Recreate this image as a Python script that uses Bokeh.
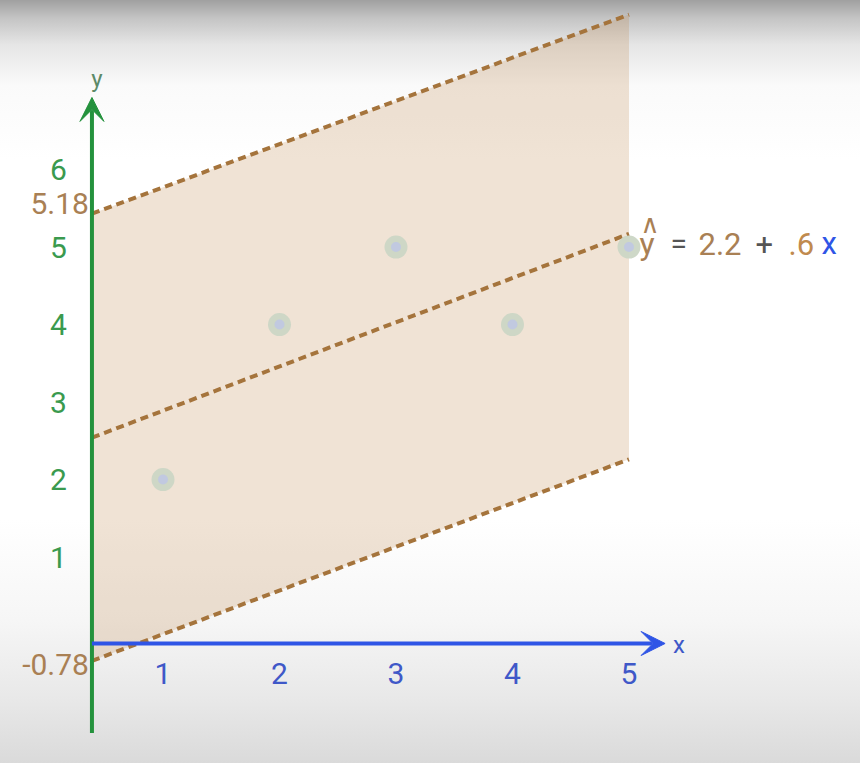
from bokeh.plotting import figure
from bokeh.models import (Range1d, LinearAxis, FixedTicker, Arrow, VeeHead, Label,
                          GlobalInlineStyleSheet)
from bokeh.embed import file_html
from bokeh.resources import INLINE

# ---------------- data ----------------
x_obs = [1, 2, 3, 4, 5]
y_obs = [2, 4, 5, 4, 5]
x_ticks = [1, 2, 3, 4, 5]
y_ticks = [1, 2, 3, 4, 5, 6]
band_x = [0.39, 5.0]          # where the drawn lines start / end
fit_y = [2.54, 5.17]          # regression line as drawn
upper_y = [5.43, 8.0]         # upper dashed bound as drawn
lower_y = [-0.34, 2.26]       # lower dashed bound as drawn
upper_label = "5.18"
lower_label = "-0.78"
eq_parts = ["y", "=", "2.2", "+", ".6", "x"]

# ---------------- layout / style ----------------
FONT = "Roboto"
GREEN = "#24923d"
GREEN_TXT = "#3a9a4e"
BLUE = "#2f55e6"
BLUE_TXT = "#3f58c8"
BROWN = "#a5743c"
BROWN_TXT = "#a98054"
GRAY_TXT = "#555555"

y_axis_x = 0.39
x_axis_y = -0.116

p = figure(width=844, height=747,
           x_range=Range1d(-0.395, 6.85), y_range=Range1d(-1.458, 8.181),
           x_axis_type=None, y_axis_type=None,
           output_backend="svg", toolbar_location=None, min_border=0,
           outline_line_color=None, background_fill_alpha=0, border_fill_alpha=0)

p.stylesheets = [GlobalInlineStyleSheet(css=(
    "html{height:100%;background:linear-gradient(to bottom,#a0a0a0 0px,#c4c4c4 18px,"
    "#e6e6e6 45px,#fafafa 85px,#ffffff 160px,#ffffff 520px,#f6f6f6 620px,#e8e8e8 700px,#dadada 763px) no-repeat;}"
    "body{background:transparent;}"))]

# band between bounds
p.varea(x=band_x, y1=lower_y, y2=upper_y, fill_color="#c08a4e", fill_alpha=0.24)

# dashed lines
for ys in (upper_y, fit_y, lower_y):
    p.line(band_x, ys, line_color=BROWN, line_width=4, line_dash="8 5")

# observations
p.scatter(x_obs, y_obs, size=23, fill_color="#cbd6c5", line_color=None, fill_alpha=0.95)
p.scatter(x_obs, y_obs, size=10, fill_color="#bcc4e8", line_color=None, fill_alpha=0.75)

# axes (tick labels through the library's axes)
xax = LinearAxis(ticker=FixedTicker(ticks=x_ticks), fixed_location=x_axis_y,
                 axis_line_color=None, major_tick_line_color=None, minor_tick_line_color=None,
                 major_label_text_color=BLUE_TXT, major_label_text_font_size="30px",
                 major_label_text_font=FONT, major_label_standoff=14)
p.add_layout(xax, "below")
yax = LinearAxis(ticker=FixedTicker(ticks=y_ticks), fixed_location=y_axis_x,
                 axis_line_color=None, major_tick_line_color=None, minor_tick_line_color=None,
                 major_label_text_color=GREEN_TXT, major_label_text_font_size="30px",
                 major_label_text_font=FONT, major_label_standoff=19)
p.add_layout(yax, "left")

# axis arrows
p.add_layout(Arrow(end=VeeHead(size=24, fill_color=GREEN, line_color=GREEN),
                   x_start=y_axis_x, y_start=-1.27, x_end=y_axis_x, y_end=6.93,
                   line_color=GREEN, line_width=4))
p.add_layout(Arrow(end=VeeHead(size=24, fill_color=BLUE, line_color=BLUE),
                   x_start=y_axis_x, y_start=x_axis_y, x_end=5.31, y_end=x_axis_y,
                   line_color=BLUE, line_width=4))

# axis names
p.add_layout(Label(x=y_axis_x, y=7.17, text="y", text_align="center", text_baseline="middle",
                   x_offset=5, text_color="#5c8a68", text_font_size="24px", text_font=FONT))
p.add_layout(Label(x=5.31, y=x_axis_y, text="x", text_align="left", text_baseline="middle",
                   x_offset=8, y_offset=-2, text_color=BLUE_TXT, text_font_size="24px", text_font=FONT))

# intercept labels of the bounds
p.add_layout(Label(x=y_axis_x, y=upper_y[0], text=upper_label, text_align="right",
                   text_baseline="middle", x_offset=-3, y_offset=10,
                   text_color=BROWN_TXT, text_font_size="30px", text_font=FONT))
p.add_layout(Label(x=y_axis_x, y=lower_y[0], text=lower_label, text_align="right",
                   text_baseline="middle", x_offset=-3, y_offset=-4,
                   text_color=BROWN_TXT, text_font_size="30px", text_font=FONT))

# equation  y^ = 2.2 + .6 x
eq_colors = [BROWN_TXT, GRAY_TXT, BROWN_TXT, GRAY_TXT, "#c08a4e", BLUE]
eq_offsets = [0, 31, 59, 116, 149, 182]
eq_sizes = ["32px", "30px", "31px", "31px", "31px", "31px"]
eq_x, eq_y = band_x[1] + 0.09, fit_y[1] - 0.13
for t, c, o, s in zip(eq_parts, eq_colors, eq_offsets, eq_sizes):
    p.add_layout(Label(x=eq_x, y=eq_y, text=t, x_offset=o, text_align="left",
                       text_baseline="alphabetic", text_color=c,
                       text_font_size=s, text_font=FONT))
p.add_layout(Label(x=eq_x, y=eq_y, text="\u2227", x_offset=1, y_offset=20, text_align="left",
                   text_baseline="alphabetic", text_color=BROWN_TXT,
                   text_font_size="26px", text_font="DejaVu Sans"))

open("out.html", "w").write(file_html(p, INLINE))
